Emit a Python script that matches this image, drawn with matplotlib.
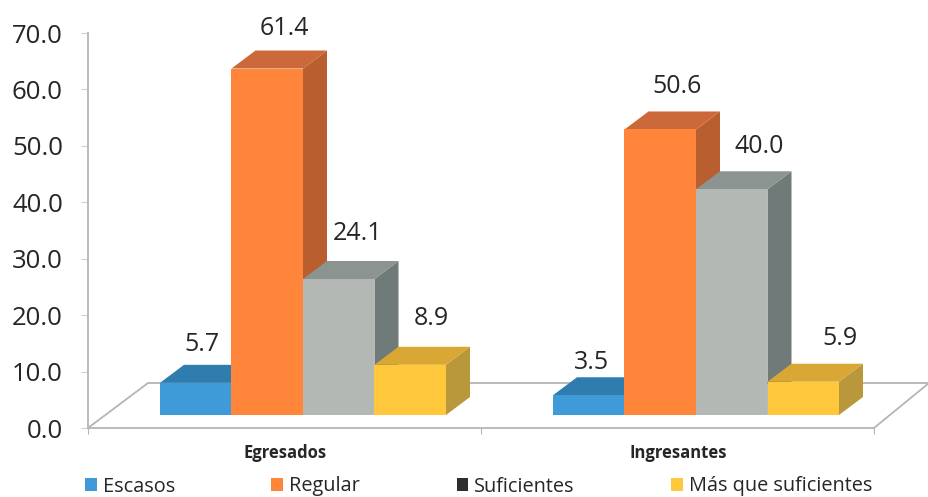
import matplotlib
matplotlib.use("Agg")
import matplotlib.pyplot as plt
from matplotlib.patches import Polygon, Patch

plt.rcParams['font.family'] = ['Open Sans', 'DejaVu Sans']

categories = ['Egresados', 'Ingresantes']
series_names = ['Escasos', 'Regular', 'Suficientes', 'Más que suficientes']
escasos = [5.7, 3.5]
regular = [61.4, 50.6]
suficientes = [24.1, 40.0]
mas_que = [8.9, 5.9]
y_ticks = [0, 10, 20, 30, 40, 50, 60, 70]

series = [escasos, regular, suficientes, mas_que]
front = ['#3F9BD8', '#FF853B', '#B4B8B4', '#FFC83C']
top = ['#2F7DAE', '#CB693A', '#8C9491', '#D9A733']
side = ['#2F7DAE', '#B95E2F', '#707B79', '#B9973B']
legend_cols = ['#3F9BD8', '#FF853B', '#2E2E2E', '#FFC83C']

# label offsets in pixels from the top-left of each front face (series, group)
label_off = [[(42, 38), (39, 33)], [(53, 40), (53, 43)], [(55, 46), (63, 43)], [(57, 46), (73, 43)]]

W, H = 929, 497
fig = plt.figure(figsize=(W / 100, H / 100), dpi=100, facecolor='white')
L, R, T, B = 88, 929, 33, 428
ax = fig.add_axes([L / W, 1 - B / H, (R - L) / W, (B - T) / H])
ax.set_ylim(0, 70)

GROUP = 393.0            # px per category
x0 = (L - 303) / GROUP   # group 0 centre at pixel 303
ax.set_xlim(x0, x0 + (R - L) / GROUP)
px = 1 / GROUP
py = 70 / (B - T)
bar_w = 71.5 * px
dx, dy = 24 * px, 18 * py
base = 13 * py

ax.patch.set_visible(False)
for s in ['top', 'right']:
    ax.spines[s].set_visible(False)
for s in ['left', 'bottom']:
    ax.spines[s].set_color('#B5B5B5')
    ax.spines[s].set_linewidth(1.3)
ax.spines['bottom'].set_bounds(x0, x0 + 2)

# floor
fl_y = 45 * py
ax.plot([x0, x0 + 60 * px, x0 + (R - L) * px], [0, fl_y, fl_y], color='#B5B5B5', lw=1.3, zorder=1, clip_on=False)
ax.plot([x0 + 2, x0 + (R - L) * px], [0, fl_y], color='#B5B5B5', lw=1.3, zorder=1, clip_on=False)

z = 3
for g in range(len(categories)):
    for i, vals in enumerate(series):
        xl = g + (i - 2) * bar_w
        xr = xl + bar_w
        y1 = base + vals[g]
        ax.add_patch(Polygon([(xr, base), (xr + dx, base + dy), (xr + dx, y1 + dy), (xr, y1)], fc=side[i], ec='none', zorder=z))
        ax.add_patch(Polygon([(xl, y1), (xl + dx, y1 + dy), (xr + dx, y1 + dy), (xr, y1)], fc=top[i], ec='none', zorder=z))
        ax.bar(xl, vals[g], width=bar_w, bottom=base, align='edge', color=front[i], zorder=z + 0.5)
        z += 1
        ox, oy = label_off[i][g]
        ax.annotate(f'{vals[g]:.1f}', (xl, y1), xytext=(ox, oy), textcoords='offset pixels',
                    ha='center', va='center', fontsize=18, color='#262626', zorder=50)

ax.set_yticks(y_ticks)
ax.set_yticklabels([f'{v:.1f}' for v in y_ticks], fontsize=18.5, color='#262626')
ax.tick_params(axis='y', length=5, color='#D0D0D0', pad=13)
ax.set_xticks([x0, x0 + 1, x0 + 2])
ax.set_xticklabels([])
ax.tick_params(axis='x', length=4, color='#B5B5B5', direction='out')

for g, c in enumerate(categories):
    ax.annotate(c, (g, 0), xycoords=('data', 'axes fraction'), xytext=(-18, -25), textcoords='offset pixels',
                ha='center', va='center', fontsize=12, fontweight='bold', color='#262626')

handles = [Patch(fc=c, ec='none') for c in legend_cols]
fig.legend(handles, series_names, loc='lower left', bbox_to_anchor=(85 / W, 0.5 / H), borderaxespad=0, ncol=4,
           frameon=False, fontsize=14.3, handlelength=0.6, handleheight=0.6, handletextpad=0.3,
           columnspacing=4.85, labelcolor='#262626', borderpad=0)

fig.savefig('out.png', dpi=100, facecolor='white')
